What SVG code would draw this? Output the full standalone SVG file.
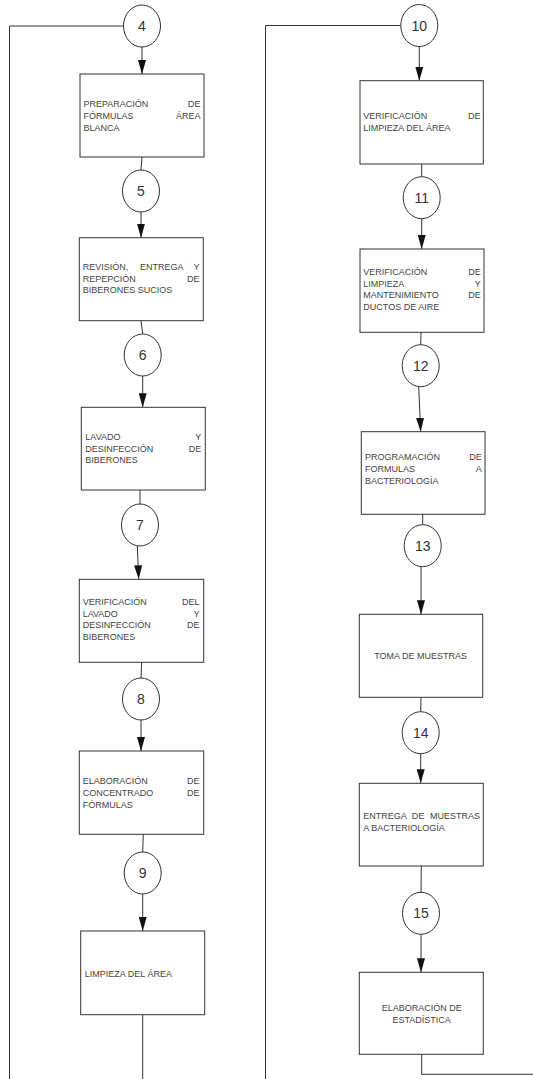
<svg xmlns="http://www.w3.org/2000/svg" width="533" height="1079" viewBox="0 0 533 1079">
<style>
.bx{fill:#fff;stroke:#333;stroke-width:1}
.cr{fill:#fff;stroke:#333;stroke-width:1}
.ln{fill:none;stroke:#333;stroke-width:1}
.ar{fill:none;stroke:#333;stroke-width:1;marker-end:url(#ah)}
.t{font-family:"Liberation Sans",Arial,sans-serif;font-size:9px;fill:#444}
.e{text-anchor:end}
.m{text-anchor:middle}
.n{font-family:"Liberation Sans",Arial,sans-serif;font-size:14px;fill:#333;text-anchor:middle}
</style>
<defs>
<marker id="ah" viewBox="0 0 14 8" refX="14" refY="4" markerWidth="14" markerHeight="8" markerUnits="userSpaceOnUse" orient="auto">
<path d="M0,0 L14,4 L0,8 z" fill="#111"/>
</marker>
</defs>
<g id="connectors">
<polyline class="ln" points="123.5,26 9.5,26 9.5,1079"/>
<polyline class="ln" points="400.8,25.5 265.5,25.5 265.5,1079"/>
<line class="ar" x1="142" y1="47" x2="142" y2="74"/>
<line class="ln" x1="142" y1="157" x2="141" y2="170"/>
<line class="ar" x1="141" y1="212" x2="141" y2="237.7"/>
<line class="ln" x1="141" y1="320.7" x2="142.7" y2="334"/>
<line class="ar" x1="142.7" y1="376" x2="142.7" y2="407.3"/>
<line class="ln" x1="140" y1="490" x2="140" y2="504"/>
<line class="ar" x1="137.3" y1="546" x2="138.7" y2="579.3"/>
<line class="ln" x1="141.7" y1="662.3" x2="141" y2="678"/>
<line class="ar" x1="141" y1="720" x2="141" y2="751"/>
<line class="ln" x1="143.3" y1="834.3" x2="142.7" y2="852"/>
<line class="ar" x1="142.7" y1="894" x2="142.7" y2="931"/>
<line class="ln" x1="142.7" y1="1014.7" x2="142.7" y2="1079"/>
<line class="ar" x1="419.3" y1="46.5" x2="419.3" y2="80.7"/>
<line class="ln" x1="421.7" y1="164" x2="421.7" y2="176.7"/>
<line class="ar" x1="421.7" y1="218.7" x2="421.7" y2="249"/>
<line class="ln" x1="421" y1="332.3" x2="420.7" y2="344.7"/>
<line class="ar" x1="418.7" y1="386.7" x2="420.7" y2="431.7"/>
<line class="ln" x1="422.7" y1="514.3" x2="422.7" y2="524.7"/>
<line class="ar" x1="421" y1="566.7" x2="421" y2="614.3"/>
<line class="ln" x1="421" y1="697.3" x2="420.7" y2="711.7"/>
<line class="ar" x1="420.7" y1="753.7" x2="420.7" y2="783.3"/>
<line class="ln" x1="421.3" y1="866" x2="421" y2="892.3"/>
<line class="ar" x1="421" y1="934.3" x2="421" y2="972.3"/>
<polyline class="ln" points="421.7,1054.3 421.7,1074.3 533,1074.3"/>
</g>
<g id="c4"><ellipse class="cr" cx="142" cy="26" rx="18.5" ry="21"/><text class="n" x="142" y="31">4</text></g>
<g id="b1"><rect class="bx" x="80" y="74" width="124" height="83"/>
<text class="t" x="83.5" y="106.5">PREPARACIÓN</text><text class="t e" x="200.5" y="106.5">DE</text>
<text class="t" x="83.5" y="118.5">FÓRMULAS</text><text class="t e" x="200.5" y="118.5">ÁREA</text>
<text class="t" x="83.5" y="130.5">BLANCA</text></g>
<g id="c5"><ellipse class="cr" cx="141" cy="191" rx="18.5" ry="21"/><text class="n" x="141" y="196">5</text></g>
<g id="b2"><rect class="bx" x="79.3" y="237.7" width="124" height="83"/>
<text class="t" x="82.7" y="270">REVISIÓN,</text><text class="t" x="140" y="270">ENTREGA</text><text class="t e" x="199.5" y="270">Y</text>
<text class="t" x="82.7" y="281.7">REPEPCIÓN</text><text class="t e" x="199.5" y="281.7">DE</text>
<text class="t" x="82.7" y="293.3">BIBERONES SUCIOS</text></g>
<g id="c6"><ellipse class="cr" cx="142.7" cy="355" rx="18.5" ry="21"/><text class="n" x="142.7" y="360">6</text></g>
<g id="b3"><rect class="bx" x="81.3" y="407.3" width="124" height="82.7"/>
<text class="t" x="85.3" y="440">LAVADO</text><text class="t e" x="201.3" y="440">Y</text>
<text class="t" x="85.3" y="451.5">DESINFECCIÓN</text><text class="t e" x="201.3" y="451.5">DE</text>
<text class="t" x="85.3" y="463">BIBERONES</text></g>
<g id="c7"><ellipse class="cr" cx="140" cy="525" rx="18.5" ry="21"/><text class="n" x="140" y="530">7</text></g>
<g id="b4"><rect class="bx" x="79.3" y="579.3" width="124.4" height="83"/>
<text class="t" x="82.7" y="605">VERIFICACIÓN</text><text class="t e" x="199.5" y="605">DEL</text>
<text class="t" x="82.7" y="616.7">LAVADO</text><text class="t e" x="199.5" y="616.7">Y</text>
<text class="t" x="82.7" y="628.3">DESINFECCIÓN</text><text class="t e" x="199.5" y="628.3">DE</text>
<text class="t" x="82.7" y="640">BIBERONES</text></g>
<g id="c8"><ellipse class="cr" cx="141" cy="699" rx="18.5" ry="21"/><text class="n" x="141" y="704">8</text></g>
<g id="b5"><rect class="bx" x="79.3" y="751" width="124.4" height="83.3"/>
<text class="t" x="82.7" y="784">ELABORACIÓN</text><text class="t e" x="199.5" y="784">DE</text>
<text class="t" x="82.7" y="795.7">CONCENTRADO</text><text class="t e" x="199.5" y="795.7">DE</text>
<text class="t" x="82.7" y="807.5">FÓRMULAS</text></g>
<g id="c9"><ellipse class="cr" cx="142.7" cy="873" rx="18.5" ry="21"/><text class="n" x="142.7" y="878">9</text></g>
<g id="b6"><rect class="bx" x="80.7" y="931" width="124" height="83.7"/>
<text class="t" x="84.7" y="976.7">LIMPIEZA DEL ÁREA</text></g>
<g id="c10"><ellipse class="cr" cx="419.3" cy="25.5" rx="18.5" ry="21"/><text class="n" x="419.3" y="30.5">10</text></g>
<g id="b7"><rect class="bx" x="360" y="80.7" width="123.3" height="83.3"/>
<text class="t" x="363.3" y="119">VERIFICACIÓN</text><text class="t e" x="480.5" y="119">DE</text>
<text class="t" x="363.3" y="130.7">LIMPIEZA DEL ÁREA</text></g>
<g id="c11"><ellipse class="cr" cx="421.7" cy="197.7" rx="18.5" ry="21"/><text class="n" x="421.7" y="202.7">11</text></g>
<g id="b8"><rect class="bx" x="360" y="249" width="124" height="83.3"/>
<text class="t" x="363.3" y="275">VERIFICACIÓN</text><text class="t e" x="480.7" y="275">DE</text>
<text class="t" x="363.3" y="286.7">LIMPIEZA</text><text class="t e" x="480.7" y="286.7">Y</text>
<text class="t" x="363.3" y="298.3">MANTENIMIENTO</text><text class="t e" x="480.7" y="298.3">DE</text>
<text class="t" x="363.3" y="310">DUCTOS DE AIRE</text></g>
<g id="c12"><ellipse class="cr" cx="420.7" cy="365.7" rx="18.5" ry="21"/><text class="n" x="420.7" y="370.7">12</text></g>
<g id="b9"><rect class="bx" x="361.3" y="431.7" width="123.7" height="82.6"/>
<text class="t" x="365" y="460">PROGRAMACIÓN</text><text class="t e" x="481.7" y="460">DE</text>
<text class="t" x="365" y="471.7">FORMULAS</text><text class="t e" x="481.7" y="471.7">A</text>
<text class="t" x="365" y="483.5">BACTERIOLOGÍA</text></g>
<g id="c13"><ellipse class="cr" cx="422.7" cy="545.7" rx="18.5" ry="21"/><text class="n" x="422.7" y="550.7">13</text></g>
<g id="b10"><rect class="bx" x="359.3" y="614.3" width="123.4" height="83"/>
<text class="t m" x="420.7" y="659.3">TOMA DE MUESTRAS</text></g>
<g id="c14"><ellipse class="cr" cx="420.7" cy="732.7" rx="18.5" ry="21"/><text class="n" x="420.7" y="737.7">14</text></g>
<g id="b11"><rect class="bx" x="359.3" y="783.3" width="124" height="82.7"/>
<text class="t" x="363.3" y="819">ENTREGA</text><text class="t" x="411.7" y="819">DE</text><text class="t e" x="480" y="819">MUESTRAS</text>
<text class="t" x="363.3" y="830.7">A BACTERIOLOGÍA</text></g>
<g id="c15"><ellipse class="cr" cx="421" cy="913.3" rx="18.5" ry="21"/><text class="n" x="421" y="918.3">15</text></g>
<g id="b12"><rect class="bx" x="359.3" y="972.3" width="124" height="82"/>
<text class="t m" x="421.7" y="1010.7">ELABORACIÓN DE</text>
<text class="t m" x="421.7" y="1022.7">ESTADÍSTICA</text></g>
</svg>
